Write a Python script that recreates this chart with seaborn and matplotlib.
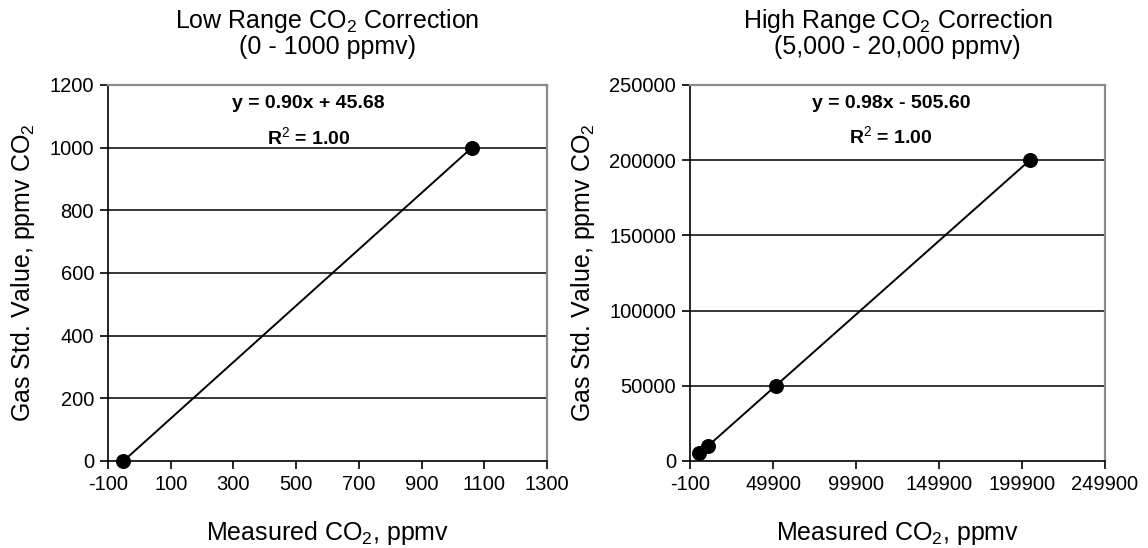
import matplotlib
matplotlib.use("Agg")
import matplotlib.pyplot as plt
import seaborn as sns
import pandas as pd

# Data
low_measured = [-50.7, 1060.4]
low_std = [0, 1000]
high_measured = [5618, 10720, 51536, 204598]
high_std = [5000, 10000, 50000, 200000]

low_xticks = [-100, 100, 300, 500, 700, 900, 1100, 1300]
low_yticks = [0, 200, 400, 600, 800, 1000, 1200]
high_xticks = [-100, 49900, 99900, 149900, 199900, 249900]
high_yticks = [0, 50000, 100000, 150000, 200000, 250000]

low_title = "Low Range CO$_2$ Correction\n(0 - 1000 ppmv)"
high_title = "High Range CO$_2$ Correction\n(5,000 - 20,000 ppmv)"
low_eq = ["y = 0.90x + 45.68", "R$^2$ = 1.00"]
high_eq = ["y = 0.98x - 505.60", "R$^2$ = 1.00"]
xlabel = "Measured CO$_2$, ppmv"
ylabel = "Gas Std. Value, ppmv CO$_2$"

sns.set_theme(style="white")
plt.rcParams["font.family"] = ["Liberation Sans", "DejaVu Sans"]
plt.rcParams["mathtext.fontset"] = "custom"
plt.rcParams["mathtext.rm"] = "Liberation Sans"
plt.rcParams["mathtext.it"] = "Liberation Sans:italic"
plt.rcParams["mathtext.bf"] = "Liberation Sans:bold"
plt.rcParams["text.color"] = "black"
plt.rcParams["axes.labelcolor"] = "black"
plt.rcParams["axes.titlecolor"] = "black"
plt.rcParams["xtick.color"] = "black"
plt.rcParams["ytick.color"] = "black"
plt.rcParams["xtick.labelcolor"] = "black"
plt.rcParams["ytick.labelcolor"] = "black"

W, H = 1148, 548
fig = plt.figure(figsize=(W / 100, H / 100), dpi=100)
ax1 = fig.add_axes([108 / W, (H - 461) / H, 439 / W, 376 / H])
ax2 = fig.add_axes([690 / W, (H - 461) / H, 415 / W, 376 / H])


def style(ax, xt, yt, title, eq, eqx, eqy):
    ax.set_xlim(xt[0], xt[-1])
    ax.set_ylim(yt[0], yt[-1])
    ax.set_xticks(xt)
    ax.set_yticks(yt)
    ax.set_xticklabels([str(v) for v in xt], fontsize=14.5, color="black")
    ax.set_yticklabels([str(v) for v in yt], fontsize=14.5, color="black")
    for v in yt[1:-1]:
        ax.axhline(v, color="black", lw=1.1, zorder=1)
    for s in ["left", "bottom"]:
        ax.spines[s].set_color("black")
        ax.spines[s].set_linewidth(1.2)
    for s in ["top", "right"]:
        ax.spines[s].set_color("#8a8a8a")
        ax.spines[s].set_linewidth(1.6)
    ax.tick_params(axis="both", direction="out", length=6, width=1.2,
                   color="black", bottom=True, left=True, pad=4)
    ax.set_title(title, fontsize=18, pad=22, linespacing=1.0, color="black")
    ax.set_xlabel(xlabel, fontsize=18, labelpad=18, color="black")
    ax.set_ylabel(ylabel, fontsize=18, labelpad=9, color="black")
    ax.text(eqx, eqy[0], eq[0], ha="center", va="center",
            fontsize=14, fontweight="bold", color="black")
    ax.text(eqx, eqy[1], eq[1], ha="center", va="center",
            fontsize=14, fontweight="bold", color="black")


df_low = pd.DataFrame({"m": low_measured, "s": low_std})
df_high = pd.DataFrame({"m": high_measured, "s": high_std})

sns.lineplot(data=df_low, x="m", y="s", ax=ax1, color="black", lw=1.4,
             marker="o", markersize=10, markeredgecolor="black",
             markerfacecolor="black", zorder=3, clip_on=False)
sns.lineplot(data=df_high, x="m", y="s", ax=ax2, color="black", lw=1.4,
             marker="o", markersize=10, markeredgecolor="black",
             markerfacecolor="black", zorder=3, clip_on=False)

style(ax1, low_xticks, low_yticks, low_title, low_eq, 540, [1140, 1035])
style(ax2, high_xticks, high_yticks, high_title, high_eq, 121000, [238000, 216000])

fig.savefig("out.png", dpi=100)
